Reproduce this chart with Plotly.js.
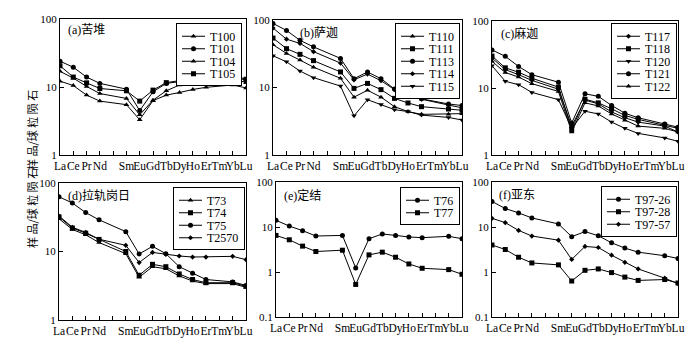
<!DOCTYPE html>
<html>
<head>
<meta charset="utf-8">
<script src="https://cdn.plot.ly/plotly-3.0.1.min.js"></script>
<style>
  body { margin: 0; background: #fff; }
  #myPlot { width: 698px; height: 349px; }
</style>
</head>
<body>
<div id="myPlot"></div>
<script>
// REE order, Pm kept as an empty slot
var ree = ["La","Ce","Pr","Nd","Pm","Sm","Eu","Gd","Tb","Dy","Ho","Er","Tm","Yb","Lu"];
var reeLabels = ["La","Ce","Pr","Nd","","Sm","Eu","Gd","Tb","Dy","Ho","Er","Tm","Yb","Lu"];

// (a) 苦堆
var T100 = [12.2, 10.5, 7.6, 6.2, null, 5.5, 3.3, 6.3, 7.6, 8.3, 9.2, 9.9, null, 10.7, 9.7];
var T101 = [24, 19.5, 14, 11.3, null, 9.3, 4.5, 8.5, 11.3, 12, 12.7, 13.5, null, 14.5, 12.5];
var T104 = [17, 13.5, 10.2, 8, null, 6.8, 3.9, 6.4, 8.8, 10.7, 12.4, 13.3, null, 13.7, 11.5];
var T105 = [20.5, 14, 11.5, 9.5, null, 8.8, 6.2, 9.0, 11.6, 12.4, 13.1, 13.8, null, 15, 13];
// (b) 萨迦
var T110 = [43, 32, 25.5, 20, null, 13.7, 7.2, 9.1, 7.2, 5.2, 4.4, 4.0, null, 4.0, 4.1];
var T111 = [54, 37.6, 31, 25, null, 17, 9.7, 11.5, 9.3, 6.9, 5.9, 5.2, null, 4.8, 4.6];
var T113 = [89, 70, 50, 40, null, 27, 13.5, 17, 13.5, 9.5, 8, 6.8, null, 5.7, 5.4];
var T114 = [76, 52, 45, 34, null, 23, 13, 15.8, 12.6, 9.3, 7.8, 6.7, null, 5.5, 5.0];
var T115 = [29.5, 24, 17.5, 14, null, 10.5, 3.8, 6.6, 5.6, 4.7, 4.4, 3.9, null, 3.6, 3.3];
// (c) 麻迦
var T117 = [28, 18.8, 15.8, 13, null, 9.6, 2.7, 6.6, 5.8, 4.4, 3.6, 3.1, null, 2.7, 2.2];
var T118 = [30, 20, 17.2, 14, null, 10.3, 2.4, 6.8, 6.0, 4.9, 3.9, 3.4, null, 2.8, 2.5];
var T120 = [21.5, 12.6, 11.2, 8.6, null, 6.7, 2.5, 4.5, 4.1, 3.1, 2.5, 2.1, null, 1.8, 1.6];
var T121 = [37, 29.7, 21, 15.8, null, 12.2, 3.0, 8.2, 7.5, 5.5, 4.2, 3.6, null, 2.9, 2.6];
var T122 = [25, 17, 14.6, 11.6, null, 8.9, 2.2, 6.0, 5.4, 4.1, 3.3, 2.7, null, 2.5, 2.2];
// (d) 拉轨岗日
var T73 = [30, 21, 17.5, 13.5, null, 9.3, 4.2, 6.0, 5.6, 4.4, 3.7, 3.4, null, 3.4, 3.0];
var T74 = [32, 22, 18.5, 15, null, 10, 4.5, 6.5, 6.0, 4.7, 3.9, 3.5, null, 3.5, 3.1];
var T75 = [63, 51, 37, 29, null, 19.5, 9.2, 11.9, 9.3, 6.0, 4.8, 3.9, null, 3.6, 3.2];
var T2570 = [33, 22.6, 19, 15.1, null, 12.3, 6.9, 9.7, 9.1, 8.6, 8.3, 8.3, null, 8.5, 7.6];
// (e) 定结
var T76 = [14.1, 10.5, 8.3, 6.3, null, 6.5, 1.23, 5.5, 7.0, 6.5, 6.0, 5.8, null, 6.2, 5.5];
var T77 = [6.5, 5.2, 3.76, 2.85, null, 3.05, 0.53, 2.4, 2.76, 2.13, 1.51, 1.21, null, 1.13, 0.89];
// (f) 亚东
var T97_26 = [36.9, 25.7, 20.6, 15.9, null, 11.7, 6.1, 7.9, 6.4, 4.45, 3.4, 2.76, null, 2.3, 2.0];
var T97_28 = [3.98, 3.16, 2.13, 1.59, null, 1.44, 0.63, 1.09, 1.17, 0.97, 0.77, 0.65, null, 0.68, 0.57];
var T97_57 = [15.6, 12.5, 8.4, 6.3, null, 5.1, 1.9, 3.7, 3.5, 2.36, 1.64, 1.17, null, 0.73, 0.55];

var W = 698, H = 349;
var serif = "Liberation Serif, Times New Roman, serif";
var cjk = "Liberation Serif, Noto Sans CJK SC, serif";

function tr(name, y, sym, n, msize){
  return {
    x: ree, y: y, name: name, mode: "lines+markers", connectgaps: true,
    xaxis: "x" + (n == 1 ? "" : n), yaxis: "y" + (n == 1 ? "" : n),
    legend: "legend" + (n == 1 ? "" : n),
    line: {color: "#000", width: 1},
    marker: {symbol: sym, size: msize || 5, color: "#000"}
  };
}

var data = [
  tr("T100", T100, "triangle-up", 1), tr("T101", T101, "circle", 1),
  tr("T104", T104, "triangle-up", 1), tr("T105", T105, "square", 1),
  tr("T110", T110, "triangle-up", 2), tr("T111", T111, "square", 2),
  tr("T113", T113, "circle", 2), tr("T114", T114, "diamond", 2, 4),
  tr("T115", T115, "triangle-down", 2),
  tr("T117", T117, "diamond", 3, 4), tr("T118", T118, "square", 3),
  tr("T120", T120, "triangle-down", 3), tr("T121", T121, "circle", 3),
  tr("T122", T122, "triangle-up", 3),
  tr("T73", T73, "triangle-up", 4), tr("T74", T74, "square", 4),
  tr("T75", T75, "circle", 4), tr("T2570", T2570, "diamond", 4, 4),
  tr("T76", T76, "circle", 5), tr("T77", T77, "square", 5),
  tr("T97-26", T97_26, "circle", 6), tr("T97-28", T97_28, "square", 6),
  tr("T97-57", T97_57, "diamond", 6, 4)
];

// panel boxes in pixels: left, right, top, bottom
var boxes = [
  [60, 246, 19, 155], [273, 462, 20, 155], [492, 678, 21, 155],
  [59, 246, 183, 320], [276, 462, 182, 317], [492, 678, 182, 317]
];
var yRanges = [[0,2],[0,2],[0,2],[0,2],[-1,2],[-1,2]];
var legendPos = [[242, 23], [460, 23], [677, 23], [245, 187], [460, 187], [677, 186]];
var titles = ["(a)苦堆", "(b)萨迦", "(c)麻迦", "(d)拉轨岗日", "(e)定结", "(f)亚东"];
var titlePos = [[66, 21], [298, 24], [499, 24], [66, 186], [282, 186], [497, 186]];

var layout = {
  width: W, height: H,
  margin: {l: 0, r: 0, t: 0, b: 0},
  paper_bgcolor: "#fff", plot_bgcolor: "#fff",
  showlegend: true,
  annotations: [],
  font: {family: serif, color: "#000"}
};

for (var k = 0; k < 6; k++) {
  var s = k == 0 ? "" : (k + 1);
  var b = boxes[k];
  layout["xaxis" + s] = {
    domain: [b[0] / W, b[1] / W], anchor: "y" + s,
    type: "category", categoryorder: "array", categoryarray: ree,
    range: [0, 14], tickvals: ree, ticktext: reeLabels, tickangle: 0,
    ticks: "inside", ticklen: 4, tickcolor: "#000",
    showgrid: false, zeroline: false,
    showline: true, mirror: true, linecolor: "#000", linewidth: 1,
    tickfont: {family: serif, size: 11.5, color: "#000"}
  };
  layout["yaxis" + s] = {
    domain: [1 - b[3] / H, 1 - b[2] / H], anchor: "x" + s,
    type: "log", range: yRanges[k],
    tickvals: [0.1, 1, 10, 100], ticktext: ["0.1", "1", "10", "100"],
    ticks: "inside", ticklen: 4, tickcolor: "#000",
    showgrid: false, zeroline: false,
    showline: true, mirror: true, linecolor: "#000", linewidth: 1,
    tickfont: {family: serif, size: 11, color: "#000"}
  };
  layout["legend" + s] = {
    x: legendPos[k][0] / W, y: 1 - legendPos[k][1] / H,
    xanchor: "right", yanchor: "top",
    bgcolor: "#fff", bordercolor: "#000", borderwidth: 1,
    font: {family: serif, size: 12, color: "#000"},
    itemwidth: 30, tracegroupgap: 0
  };
  layout.annotations.push({
    text: titles[k], xref: "paper", yref: "paper",
    x: titlePos[k][0] / W, y: 1 - titlePos[k][1] / H,
    xanchor: "left", yanchor: "top", showarrow: false,
    font: {family: cjk, size: 12, color: "#000"}
  });
}

// y axis label for the left column
[[22, 88], [22, 250]].forEach(function(p){
  layout.annotations.push({
    text: "样 品/球 粒 陨 石", xref: "paper", yref: "paper",
    x: p[0] / W, y: 1 - p[1] / H, textangle: -90, showarrow: false,
    font: {family: "Noto Sans CJK SC", size: 11, color: "#000"}
  });
});

// tighten legend rows (plotly keeps 19px minimum per item) and shorten the samples
function tightLegends(gd){
  var step = 12.5, cut = 7;
  var ids = ["legend","legend2","legend3","legend4","legend5","legend6"];
  ids.forEach(function(id){
    var g = gd.querySelector("g." + id);
    if (!g) return;
    var items = g.querySelectorAll("g.traces");
    if (!items.length) return;
    var ys = [];
    items.forEach(function(it){
      var m = /translate\(([-\d.]+),\s*([-\d.]+)\)/.exec(it.getAttribute("transform"));
      ys.push([parseFloat(m[1]), parseFloat(m[2])]);
    });
    var oldStep = items.length > 1 ? ys[1][1] - ys[0][1] : step;
    var shift = ys[0][1] - (oldStep - step) / 2 + 1;
    items.forEach(function(it, i){
      it.setAttribute("transform", "translate(" + ys[i][0] + "," + (shift + i * step) + ")");
      var ln = it.querySelector("g.legendlines path");
      if (ln) ln.setAttribute("d", "M5,0h" + (30 - cut));
      var pt = it.querySelector("g.legendpoints path");
      if (pt) pt.setAttribute("transform", "translate(" + (20 - cut / 2) + ",0)");
      var tx = it.querySelector("text");
      if (tx) {
        tx.setAttribute("x", 40 - cut);
        tx.querySelectorAll("tspan").forEach(function(t){
          if (t.hasAttribute("x")) t.setAttribute("x", 40 - cut);
        });
      }
    });
    var bg = g.querySelector("rect.bg");
    if (bg) {
      var h = parseFloat(bg.getAttribute("height"));
      bg.setAttribute("height", h - items.length * (oldStep - step) + 1);
      var w = parseFloat(bg.getAttribute("width"));
      bg.setAttribute("width", w - cut);
      var t = g.getAttribute("transform");
      var m2 = /translate\(([-\d.]+),\s*([-\d.]+)\)/.exec(t);
      if (m2) g.setAttribute("transform", "translate(" + (parseFloat(m2[1]) + cut) + "," + m2[2] + ")");
    }
  });
}

Plotly.newPlot("myPlot", data, layout, {staticPlot: true}).then(function(gd){
  tightLegends(gd);
});
</script>
</body>
</html>
